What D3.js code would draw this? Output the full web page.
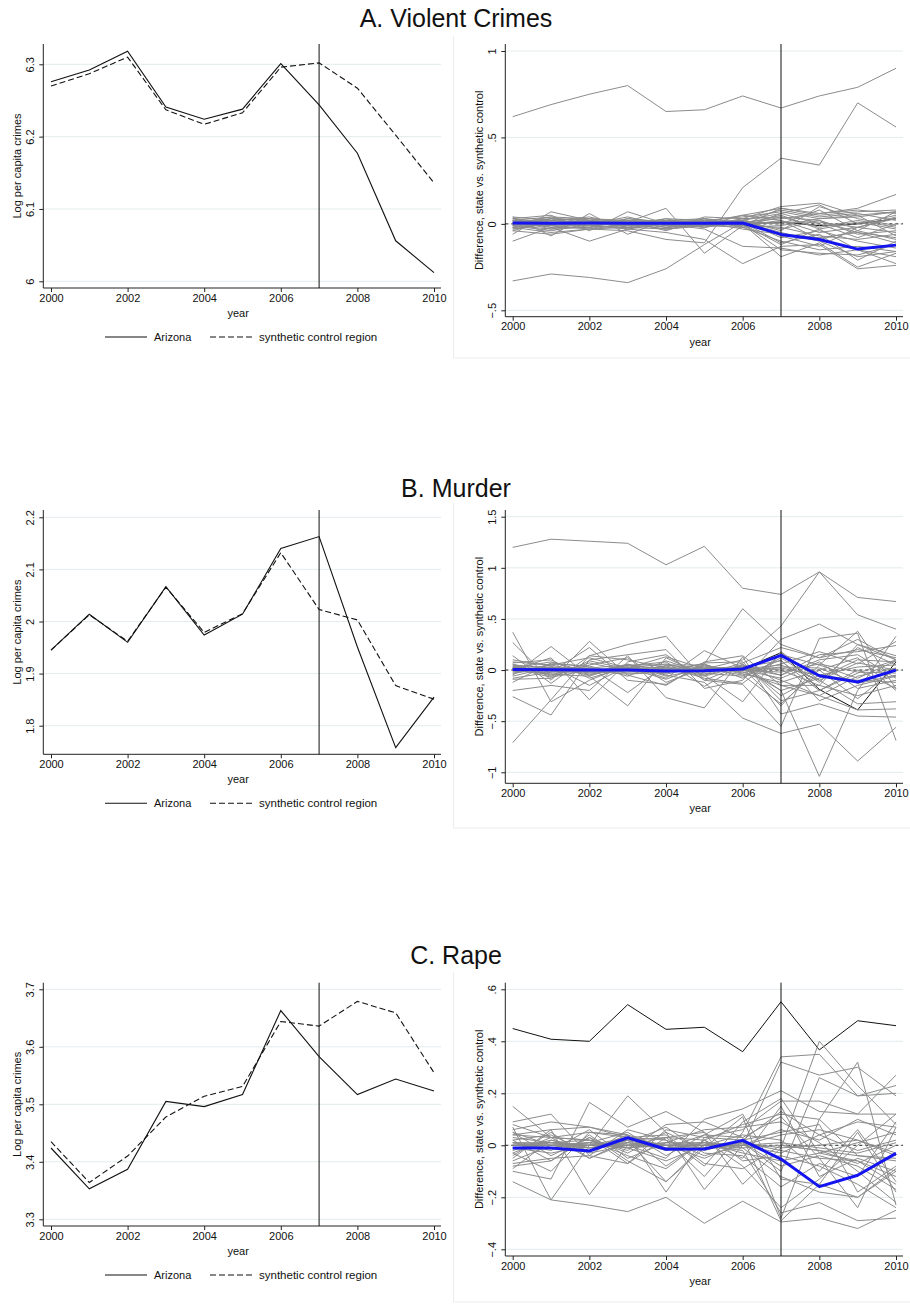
<!DOCTYPE html>
<html>
<head>
<meta charset="utf-8">
<script src="https://cdn.jsdelivr.net/npm/d3@7"></script>
<style>
body { margin: 0; background: #fff; }
svg { font-family: "Liberation Sans", Arial, Helvetica, sans-serif; }
</style>
</head>
<body>
<svg id="chart" width="910" height="1304"></svg>
<script>
// years on the x axis
var years = [2000, 2001, 2002, 2003, 2004, 2005, 2006, 2007, 2008, 2009, 2010];
var yearTicks = [2000, 2002, 2004, 2006, 2008, 2010];
var treatYear = 2007;

// left panels: Arizona vs synthetic control (log per capita crimes)
var azViolent    = [6.276, 6.292, 6.318, 6.241, 6.224, 6.238, 6.301, 6.244, 6.177, 6.056, 6.012];
var synthViolent = [6.270, 6.287, 6.310, 6.237, 6.217, 6.233, 6.296, 6.302, 6.267, 6.202, 6.136];
var azMurder     = [1.945, 2.014, 1.960, 2.067, 1.974, 2.014, 2.140, 2.163, 1.951, 1.758, 1.855];
var synthMurder  = [1.945, 2.013, 1.962, 2.066, 1.979, 2.015, 2.132, 2.023, 2.003, 1.877, 1.851];
var azRape       = [3.424, 3.353, 3.387, 3.505, 3.496, 3.517, 3.663, 3.583, 3.517, 3.544, 3.523];
var synthRape    = [3.435, 3.364, 3.410, 3.478, 3.514, 3.531, 3.644, 3.636, 3.679, 3.659, 3.555];

var levelTicksViolent = [6, 6.1, 6.2, 6.3];
var levelTicksMurder  = [1.8, 1.9, 2, 2.1, 2.2];
var levelTicksRape    = [3.3, 3.4, 3.5, 3.6, 3.7];

// right panels: Arizona gap (blue) and placebo gaps
var gapViolent = [0.005, 0.004, 0.005, 0.003, 0.004, 0.004, 0.005, -0.061, -0.090, -0.146, -0.123];
var gapMurder  = [0.005, 0.003, 0.000, 0.000, -0.008, -0.006, 0.010, 0.143, -0.056, -0.117, 0.000];
var gapRape    = [-0.010, -0.010, -0.022, 0.029, -0.015, -0.014, 0.019, -0.053, -0.159, -0.115, -0.031];

var blackViolent = [0.00, 0.00, 0.01, 0.00, 0.00, 0.00, 0.00, 0.01, -0.01, 0.00, 0.03];
var blackMurder  = [0.01, 0.01, 0.00, 0.01, -0.01, -0.01, 0.01, 0.17, -0.19, -0.39, 0.08];
var blackRape    = [0.449, 0.408, 0.400, 0.541, 0.446, 0.454, 0.360, 0.552, 0.367, 0.479, 0.460];

var placeboViolent = [
	[0.62, 0.69, 0.75, 0.80, 0.65, 0.66, 0.74, 0.67, 0.74, 0.79, 0.90],
	[-0.02, -0.05, -0.03, -0.04, -0.09, -0.11, 0.21, 0.38, 0.34, 0.70, 0.56],
	[-0.33, -0.29, -0.31, -0.34, -0.26, -0.12, 0.01, -0.05, -0.10, -0.19, -0.16],
	[0.01, 0.03, 0.02, 0.01, 0.09, -0.17, -0.01, 0.04, 0.02, -0.05, -0.08],
	[-0.10, -0.02, -0.10, -0.03, -0.05, -0.09, -0.23, -0.13, -0.12, -0.26, -0.24],
	[-0.06, 0.07, 0.02, 0.00, -0.03, 0.04, 0.03, 0.10, 0.12, 0.05, 0.07],
	[0.04, -0.07, 0.06, -0.06, 0.02, 0.01, 0.05, 0.09, 0.06, 0.09, 0.17],
	[0.03, 0.05, -0.04, 0.07, 0.00, -0.03, -0.13, -0.14, -0.18, -0.15, -0.23],
	[-0.04, 0.02, 0.03, -0.02, 0.03, 0.02, 0.00, -0.19, -0.11, -0.25, -0.17],
	[0.02, -0.03, 0.01, 0.02, -0.01, 0.00, 0.02, 0.06, 0.11, 0.00, 0.05],
	[-0.02, 0.01, -0.02, 0.03, 0.01, -0.02, 0.01, -0.03, 0.02, -0.06, -0.04],
	[0.00, 0.04, 0.03, 0.01, -0.02, 0.03, -0.01, 0.02, -0.05, -0.02, 0.03],
	[0.03, 0.00, -0.01, -0.03, 0.02, 0.01, 0.02, -0.08, -0.04, -0.10, -0.14],
	[-0.01, -0.04, 0.00, 0.04, -0.01, 0.02, 0.04, 0.07, 0.03, 0.04, 0.07],
	[0.01, 0.02, 0.04, -0.01, 0.02, -0.01, -0.02, -0.10, -0.15, -0.13, -0.16],
	[-0.03, 0.00, 0.01, 0.02, -0.04, 0.03, 0.01, 0.00, 0.08, -0.04, -0.09],
	[0.02, -0.01, -0.03, 0.00, 0.03, -0.02, 0.03, 0.04, -0.02, 0.02, -0.02],
	[0.00, 0.03, 0.02, -0.02, 0.00, 0.01, -0.03, -0.06, -0.08, -0.05, -0.11],
	[-0.02, 0.00, 0.01, 0.01, -0.02, 0.00, 0.02, 0.08, 0.04, 0.06, 0.02],
	[0.01, -0.02, -0.02, 0.02, 0.01, 0.02, 0.00, -0.15, -0.17, -0.18, -0.12],
	[0.04, 0.02, 0.00, -0.01, 0.00, -0.01, 0.01, 0.03, 0.06, 0.08, 0.06],
	[-0.01, 0.01, 0.02, 0.00, 0.02, 0.01, -0.01, -0.02, -0.07, -0.09, -0.06],
	[0.00, -0.01, 0.00, 0.01, -0.01, 0.00, 0.00, 0.05, -0.03, 0.01, -0.03],
	[0.02, 0.01, -0.01, 0.03, 0.01, 0.02, 0.01, -0.11, -0.06, -0.21, -0.10],
	[-0.04, -0.06, -0.03, -0.02, -0.03, -0.01, 0.00, 0.01, 0.01, -0.02, 0.04],
	[0.01, 0.00, 0.02, -0.03, 0.00, -0.02, 0.02, -0.04, 0.10, 0.03, -0.01],
	[-0.02, 0.03, -0.01, 0.00, 0.02, 0.03, -0.02, 0.06, 0.00, -0.08, 0.00],
	[0.03, -0.02, 0.01, 0.01, -0.02, -0.01, 0.03, -0.07, -0.13, -0.02, -0.05],
	[0.00, 0.02, 0.03, 0.02, 0.00, 0.00, -0.01, 0.09, 0.05, 0.07, 0.08],
	[-0.01, -0.03, -0.02, -0.01, 0.01, 0.01, 0.00, -0.12, -0.03, -0.15, -0.19],
	[0.02, 0.04, 0.00, 0.00, -0.03, -0.01, 0.05, 0.02, -0.09, -0.04, 0.07],
	[-0.03, 0.01, 0.01, 0.02, 0.01, 0.02, -0.02, -0.01, 0.03, 0.05, -0.07]
];

var placeboMurder = [
	[1.20, 1.28, 1.26, 1.24, 1.03, 1.21, 0.80, 0.74, 0.96, 0.71, 0.67],
	[0.05, 0.02, -0.05, 0.05, 0.00, 0.06, 0.60, 0.25, 0.12, 0.30, 0.10],
	[0.08, 0.05, 0.12, 0.02, 0.13, 0.01, 0.10, 0.43, 0.96, 0.54, 0.40],
	[-0.71, -0.29, 0.14, 0.10, 0.02, -0.05, 0.05, -0.20, -1.04, -0.20, 0.33],
	[0.37, -0.31, -0.10, 0.05, -0.08, 0.19, 0.02, -0.35, 0.05, 0.38, -0.18],
	[-0.26, -0.44, 0.10, 0.15, 0.20, -0.18, -0.10, 0.30, 0.45, 0.25, 0.10],
	[0.14, -0.13, 0.14, 0.25, 0.33, -0.10, -0.14, -0.55, 0.31, 0.36, -0.69],
	[0.27, -0.10, 0.28, -0.05, -0.15, 0.08, 0.14, -0.15, -0.25, -0.39, -0.38],
	[-0.05, 0.23, -0.06, -0.35, 0.12, -0.05, -0.31, 0.18, -0.10, -0.33, -0.31],
	[-0.20, -0.15, -0.20, 0.14, -0.27, -0.37, 0.13, -0.43, -0.33, -0.45, -0.46],
	[0.02, 0.08, -0.02, 0.05, -0.05, -0.12, -0.47, -0.62, -0.53, -0.89, -0.56],
	[0.00, 0.12, -0.29, 0.08, 0.15, -0.10, 0.05, -0.05, 0.15, 0.18, 0.24],
	[-0.08, -0.02, 0.22, -0.10, -0.14, 0.06, -0.08, 0.12, -0.12, 0.22, 0.05],
	[0.10, 0.04, -0.15, 0.04, 0.08, -0.16, 0.06, -0.25, -0.05, -0.10, -0.12],
	[-0.12, 0.07, 0.03, -0.22, 0.05, 0.05, -0.03, 0.06, 0.18, 0.06, 0.28],
	[0.05, -0.06, 0.05, 0.12, -0.12, 0.02, -0.05, -0.33, 0.00, 0.12, -0.20],
	[-0.02, 0.05, -0.03, 0.02, 0.06, -0.02, 0.03, 0.09, -0.20, -0.03, 0.10],
	[0.03, -0.02, 0.02, -0.03, -0.02, 0.03, 0.00, -0.08, 0.08, -0.18, -0.10],
	[0.00, 0.01, 0.00, 0.01, 0.00, 0.00, 0.01, 0.02, -0.05, 0.03, 0.05],
	[-0.03, 0.02, -0.01, 0.03, -0.04, 0.04, -0.02, -0.15, -0.15, -0.25, -0.15],
	[0.06, -0.05, 0.07, -0.01, 0.04, -0.04, 0.07, 0.22, 0.12, 0.20, 0.12],
	[-0.06, 0.03, -0.04, 0.00, 0.01, -0.06, 0.04, -0.10, -0.25, -0.06, 0.02],
	[0.02, 0.00, 0.01, -0.02, 0.02, 0.02, -0.01, 0.03, 0.02, -0.13, -0.05],
	[0.04, -0.04, -0.06, 0.06, -0.06, 0.01, 0.02, -0.20, -0.08, 0.10, 0.08],
	[-0.04, 0.06, 0.04, -0.06, 0.09, -0.03, -0.06, 0.10, -0.30, -0.15, -0.06],
	[0.01, -0.01, -0.02, 0.00, 0.01, 0.01, 0.00, -0.02, 0.06, -0.02, -0.03],
	[0.00, 0.02, 0.01, 0.01, -0.01, -0.01, 0.01, 0.05, -0.10, 0.07, 0.00],
	[0.07, 0.10, -0.08, 0.03, -0.03, 0.07, 0.08, -0.30, -0.20, 0.00, -0.18],
	[-0.09, -0.08, 0.09, 0.01, 0.03, -0.08, -0.13, 0.15, 0.05, -0.08, 0.09],
	[0.03, 0.03, 0.02, 0.05, 0.05, 0.00, 0.02, -0.05, 0.10, 0.15, -0.08],
	[-0.01, -0.03, -0.01, -0.04, -0.02, 0.02, 0.03, 0.00, -0.15, 0.25, 0.14],
	[0.02, -0.07, 0.00, 0.02, -0.09, 0.05, -0.04, -0.12, 0.00, -0.28, 0.02]
];

var placeboRape = [
	[-0.14, -0.21, -0.23, -0.255, -0.20, -0.30, -0.215, -0.295, -0.28, -0.32, -0.25],
	[0.15, 0.03, -0.05, 0.02, -0.14, 0.00, -0.02, -0.26, -0.22, -0.29, -0.28],
	[0.09, 0.12, -0.04, 0.06, 0.02, -0.12, 0.05, 0.34, 0.35, 0.19, 0.20],
	[-0.10, -0.13, 0.165, 0.07, 0.13, 0.05, -0.15, -0.01, 0.40, 0.23, 0.08],
	[0.07, -0.21, 0.00, 0.19, 0.05, -0.17, 0.00, 0.32, 0.27, 0.30, 0.19],
	[-0.05, 0.06, -0.19, 0.00, -0.05, 0.10, 0.14, 0.21, 0.13, 0.12, 0.12],
	[0.06, 0.09, 0.07, 0.04, -0.18, 0.03, 0.06, 0.17, 0.17, 0.12, 0.27],
	[-0.08, -0.06, 0.04, -0.06, -0.14, -0.01, 0.11, -0.28, 0.10, 0.32, -0.23],
	[0.04, 0.03, 0.02, -0.02, 0.08, 0.09, 0.03, 0.11, -0.05, -0.24, 0.07],
	[-0.03, -0.10, 0.05, 0.03, 0.00, -0.05, 0.01, -0.10, 0.26, 0.19, 0.23],
	[0.02, 0.04, -0.03, 0.00, 0.03, 0.02, -0.05, 0.15, -0.12, -0.05, -0.10],
	[-0.06, 0.00, 0.01, 0.05, -0.04, 0.04, 0.12, -0.13, -0.15, 0.05, -0.18],
	[0.05, -0.04, 0.03, -0.03, 0.05, -0.02, 0.02, 0.05, 0.08, -0.18, -0.08],
	[-0.02, 0.02, -0.01, 0.02, -0.02, 0.01, -0.03, -0.06, -0.03, 0.01, 0.05],
	[0.01, -0.02, 0.06, -0.05, 0.01, 0.06, 0.07, 0.09, 0.01, -0.10, -0.22],
	[-0.04, 0.05, -0.05, 0.01, 0.07, -0.03, -0.04, -0.16, -0.07, -0.12, 0.09],
	[0.03, 0.01, 0.02, -0.01, -0.06, 0.00, 0.04, 0.02, -0.10, 0.06, -0.14],
	[-0.01, -0.03, 0.00, 0.03, 0.02, -0.04, 0.00, -0.03, 0.04, -0.02, 0.02],
	[0.00, 0.00, 0.01, -0.01, 0.00, 0.01, -0.01, 0.00, -0.02, -0.04, -0.06],
	[0.01, 0.01, -0.01, 0.00, 0.01, 0.00, 0.01, -0.02, -0.05, -0.06, -0.12],
	[-0.01, 0.00, 0.00, 0.01, -0.01, -0.01, 0.00, 0.04, 0.06, 0.02, -0.03],
	[0.00, -0.01, 0.01, 0.00, 0.00, 0.00, 0.01, -0.08, -0.04, -0.08, -0.17],
	[0.00, 0.01, 0.00, -0.01, 0.01, 0.01, 0.00, 0.06, 0.02, 0.10, 0.04],
	[0.00, 0.00, -0.01, 0.01, 0.00, -0.01, -0.01, -0.12, -0.18, -0.20, -0.10],
	[0.08, 0.03, 0.05, 0.04, -0.08, 0.02, 0.08, 0.12, 0.10, -0.04, -0.05],
	[-0.07, -0.05, -0.04, -0.07, 0.03, 0.05, -0.06, -0.04, -0.08, -0.15, -0.24],
	[0.04, 0.06, 0.07, 0.03, 0.04, -0.07, -0.09, 0.00, -0.02, -0.07, 0.00],
	[-0.09, 0.02, -0.02, 0.04, -0.01, 0.04, 0.03, -0.29, -0.15, -0.20, -0.09],
	[0.02, -0.06, 0.03, -0.07, 0.06, 0.03, 0.02, 0.13, 0.04, 0.09, 0.07],
	[0.00, 0.01, 0.00, 0.00, -0.01, 0.00, 0.00, 0.01, -0.01, -0.03, 0.01],
	[0.01, 0.00, 0.00, 0.00, 0.00, 0.00, 0.01, -0.01, 0.00, 0.02, -0.04],
	[0.05, 0.00, -0.02, 0.02, 0.03, -0.08, 0.09, 0.18, -0.03, -0.06, -0.15],
	[-0.03, 0.03, 0.02, -0.04, -0.09, 0.02, -0.08, -0.24, -0.13, 0.00, 0.12]
];

var gapTicksViolent = [-0.5, 0, 0.5, 1];
var gapTicksMurder  = [-1, -0.5, 0, 0.5, 1, 1.5];
var gapTicksRape    = [-0.4, -0.2, 0, 0.2, 0.4, 0.6];

var panelTitles = ["A. Violent Crimes", "B. Murder", "C. Rape"];
var legendLabels = ["Arizona", "synthetic control region"];
var levelYTitle = "Log per capita crimes";
var gapYTitle = "Difference, state vs. synthetic control";
var xTitle = "year";

var svg = d3.select("#chart");
var gridColor = "#e3ecee";
var fontSize = 11;

// Stata style label: drop leading zero, use minus sign
function stataFormat(v){
	var s = String(+v.toFixed(2));
	s = s.replace(/^0\./, ".").replace(/^-0\./, "-.");
	return s.replace("-", "\u2212");
}

// Draws the common axes, grid and axis titles for a panel and returns its scales
function drawFrame(cfg){
	var g = svg.append("g");
	var x = d3.scaleLinear().domain([2000, 2010]).range([cfg.x0, cfg.x1]);
	var y = d3.scaleLinear().domain([cfg.t0, cfg.t1]).range([cfg.py0, cfg.py1]);

	// gridlines
	g.selectAll(".grid").data(cfg.ticks).enter().append("line")
		.attr("x1", cfg.axisX).attr("x2", cfg.right)
		.attr("y1", function(d){ return y(d); }).attr("y2", function(d){ return y(d); })
		.attr("stroke", gridColor).attr("stroke-width", 1);

	// y axis
	var yAxis = d3.axisLeft(y).tickValues(cfg.ticks).tickSize(4).tickFormat(stataFormat);
	var ya = g.append("g").attr("transform", "translate(" + cfg.axisX + ",0)").call(yAxis);
	ya.select(".domain").remove();
	ya.append("line").attr("x1", 0).attr("x2", 0).attr("y1", cfg.top).attr("y2", cfg.bottom)
		.attr("stroke", "#222").attr("stroke-width", 1);
	ya.selectAll(".tick line").attr("stroke", "#222");
	ya.selectAll(".tick text")
		.attr("x", 0).attr("dy", null)
		.attr("transform", "translate(-13.5,0) rotate(-90)")
		.attr("text-anchor", "middle").attr("dominant-baseline", "central")
		.attr("font-size", fontSize).attr("font-family", "Liberation Sans, Arial, sans-serif")
		.attr("fill", "#111");

	// x axis
	var xAxis = d3.axisBottom(x).tickValues(yearTicks).tickSize(4).tickFormat(d3.format("d"));
	var xa = g.append("g").attr("transform", "translate(0," + cfg.bottom + ")").call(xAxis);
	xa.select(".domain").remove();
	xa.append("line").attr("x1", cfg.axisX).attr("x2", cfg.right).attr("y1", 0).attr("y2", 0)
		.attr("stroke", "#222").attr("stroke-width", 1);
	xa.selectAll(".tick line").attr("stroke", "#222");
	xa.selectAll(".tick text").attr("y", 6).attr("dy", "0.71em")
		.attr("font-size", fontSize).attr("font-family", "Liberation Sans, Arial, sans-serif")
		.attr("fill", "#111");

	// axis titles
	g.append("text").attr("x", (cfg.axisX + cfg.right) / 2 - 4).attr("y", cfg.bottom + 29)
		.attr("text-anchor", "middle").attr("font-size", fontSize).attr("fill", "#111").text(xTitle);
	g.append("text")
		.attr("transform", "translate(" + (cfg.axisX - 26) + "," + ((cfg.top + cfg.bottom) / 2) + ") rotate(-90)")
		.attr("text-anchor", "middle").attr("dominant-baseline", "central")
		.attr("font-size", fontSize).attr("fill", "#111").text(cfg.yTitle);

	return {g: g, x: x, y: y};
}

// vertical line at the treatment year
function drawTreatLine(p, cfg){
	p.g.append("line")
		.attr("x1", p.x(treatYear)).attr("x2", p.x(treatYear))
		.attr("y1", cfg.top).attr("y2", cfg.bottom)
		.attr("stroke", "#111").attr("stroke-width", 1);
}

// Left panel: Arizona vs synthetic control
function drawLevelPanel(cfg){
	var p = drawFrame(cfg);
	drawTreatLine(p, cfg);
	var line = d3.line().x(function(d, i){ return p.x(years[i]); }).y(function(d){ return p.y(d); });
	p.g.append("path").datum(cfg.synth).attr("d", line).attr("fill", "none")
		.attr("stroke", "#111").attr("stroke-width", 1.1).attr("stroke-dasharray", "6,3");
	p.g.append("path").datum(cfg.az).attr("d", line).attr("fill", "none")
		.attr("stroke", "#111").attr("stroke-width", 1.1);

	// legend
	var ly = cfg.bottom + 49;
	var lg = p.g.append("g");
	lg.append("line").attr("x1", 105).attr("x2", 147).attr("y1", ly).attr("y2", ly)
		.attr("stroke", "#111").attr("stroke-width", 1.1);
	lg.append("text").attr("x", 154).attr("y", ly).attr("dominant-baseline", "central")
		.attr("font-size", fontSize).attr("fill", "#111").text(legendLabels[0]);
	lg.append("line").attr("x1", 210).attr("x2", 253).attr("y1", ly).attr("y2", ly)
		.attr("stroke", "#111").attr("stroke-width", 1.1).attr("stroke-dasharray", "6,3");
	lg.append("text").attr("x", 259).attr("y", ly).attr("dominant-baseline", "central")
		.attr("font-size", 11.5).attr("fill", "#111").text(legendLabels[1]);
}

// Right panel: gaps for Arizona and the placebo states
function drawGapPanel(cfg){
	// faint graph region border
	svg.append("path")
		.attr("d", "M453.5," + cfg.boxTop + "V" + cfg.boxBottom + "H910")
		.attr("fill", "none").attr("stroke", "#ececec").attr("stroke-width", 1);
	var p = drawFrame(cfg);
	p.g.append("line").attr("x1", cfg.axisX).attr("x2", cfg.right)
		.attr("y1", p.y(0)).attr("y2", p.y(0))
		.attr("stroke", "#111").attr("stroke-width", 0.9).attr("stroke-dasharray", "3,3");
	var line = d3.line().x(function(d, i){ return p.x(years[i]); }).y(function(d){ return p.y(d); });
	p.g.append("path").datum(cfg.black).attr("d", line).attr("fill", "none")
		.attr("stroke", "#111").attr("stroke-width", 1);
	p.g.selectAll(".placebo").data(cfg.placebo).enter().append("path")
		.attr("d", line).attr("fill", "none")
		.attr("stroke", "#8c8c8c").attr("stroke-width", 1);
	drawTreatLine(p, cfg);
	p.g.append("path").datum(cfg.gap).attr("d", line).attr("fill", "none")
		.attr("stroke", "#1414f0").attr("stroke-width", 3).attr("stroke-linejoin", "round");
}

function drawTitle(text, baseline){
	svg.append("text").attr("x", 456).attr("y", baseline).attr("text-anchor", "middle")
		.attr("font-size", 25).attr("fill", "#111").text(text);
}

drawTitle(panelTitles[0], 27);
drawTitle(panelTitles[1], 497);
drawTitle(panelTitles[2], 964);

var leftX = {axisX: 43.3, x0: 51, x1: 434, right: 441, yTitle: levelYTitle};
var rightX = {axisX: 505.3, x0: 512.7, x1: 896, right: 903, yTitle: gapYTitle};

drawLevelPanel(Object.assign({}, leftX, {top: 44, bottom: 288, t0: 6.0, t1: 6.3, py0: 281.3, py1: 64.3,
	ticks: levelTicksViolent, az: azViolent, synth: synthViolent}));
drawLevelPanel(Object.assign({}, leftX, {top: 510, bottom: 754.3, t0: 1.8, t1: 2.2, py0: 725.7, py1: 517.3,
	ticks: levelTicksMurder, az: azMurder, synth: synthMurder}));
drawLevelPanel(Object.assign({}, leftX, {top: 982.7, bottom: 1226, t0: 3.3, t1: 3.7, py0: 1219.3, py1: 989.3,
	ticks: levelTicksRape, az: azRape, synth: synthRape}));

drawGapPanel(Object.assign({}, rightX, {top: 44, bottom: 316.7, t0: -0.5, t1: 1, py0: 310.3, py1: 51,
	boxTop: 36, boxBottom: 358, ticks: gapTicksViolent, placebo: placeboViolent, black: blackViolent, gap: gapViolent}));
drawGapPanel(Object.assign({}, rightX, {top: 510, bottom: 783.3, t0: -1, t1: 1.5, py0: 772.3, py1: 516.7,
	boxTop: 503, boxBottom: 828, ticks: gapTicksMurder, placebo: placeboMurder, black: blackMurder, gap: gapMurder}));
drawGapPanel(Object.assign({}, rightX, {top: 982.7, bottom: 1256, t0: -0.4, t1: 0.6, py0: 1249.3, py1: 989.3,
	boxTop: 972, boxBottom: 1302, ticks: gapTicksRape, placebo: placeboRape, black: blackRape, gap: gapRape}));
</script>
</body>
</html>
